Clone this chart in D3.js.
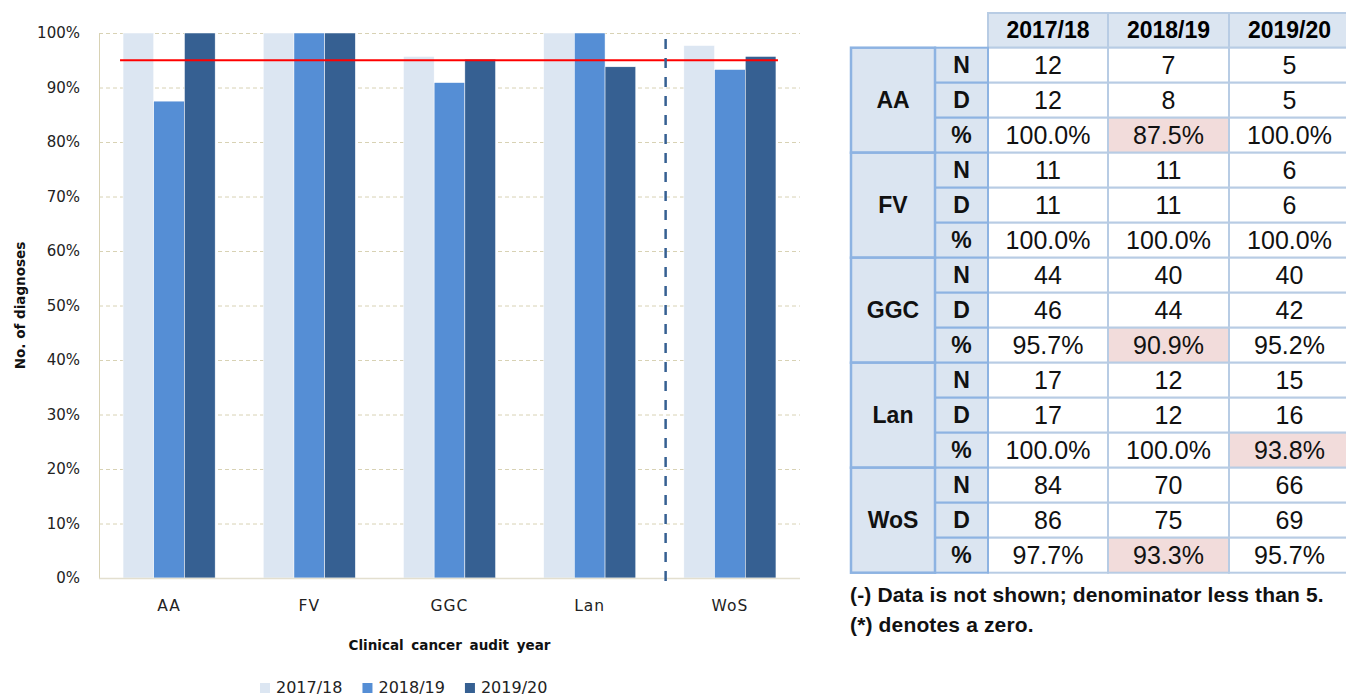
<!DOCTYPE html>
<html lang="en">
<head>
    <title>Diagnoses by board</title>
    <script src="https://d3js.org/d3.v7.min.js"></script>
    <style>
        body { margin: 0; background: #fff; }
        svg { display: block; }
    </style>
</head>
<body>
<script>

        // categories and audit years
        var categories = ["AA", "FV", "GGC", "Lan", "WoS"];
        var years = ["2017/18", "2018/19", "2019/20"];

        // percentages (bar heights and % rows)
        var pct2017 = [100.0, 100.0, 95.7, 100.0, 97.7];
        var pct2018 = [87.5, 100.0, 90.9, 100.0, 93.3];
        var pct2019 = [100.0, 100.0, 95.2, 93.8, 95.7];

        // numerators and denominators for the table
        var num2017 = [12, 11, 44, 17, 84];
        var den2017 = [12, 11, 46, 17, 86];
        var num2018 = [7, 11, 40, 12, 70];
        var den2018 = [8, 11, 44, 12, 75];
        var num2019 = [5, 6, 40, 15, 66];
        var den2019 = [5, 6, 42, 16, 69];

        var target = 95;
        var yTicks = [0, 10, 20, 30, 40, 50, 60, 70, 80, 90, 100];
        var rowKeys = ["N", "D", "%"];
        var footnotes = ["(-) Data is not shown; denominator less than 5.", "(*) denotes a zero."];

        var pct = [pct2017, pct2018, pct2019];
        var num = [num2017, num2018, num2019];
        var den = [den2017, den2018, den2019];

        const width = 1346, height = 696;
        const colors = ["#dce6f2", "#558ed5", "#366092"];

        const svg = d3.select("body")
                    .append("svg")
                    .attr("width", width)
                    .attr("height", height);

        // ---------- bar chart ----------
        const plot = { left: 99, right: 800, top: 33, bottom: 578 };
        const chartFont = "'DejaVu Sans', Verdana, sans-serif";

        var x0 = d3.scaleBand()
            .domain(categories)
            .range([plot.left, plot.right])
            .paddingInner(0.343)
            .paddingOuter(0.1715);

        var x1 = d3.scaleBand()
            .domain(years)
            .range([0, x0.bandwidth()]);

        var y = d3.scaleLinear()
            .domain([0, 100])
            .range([plot.bottom, plot.top]);

        // gridlines
        svg.append("g")
            .selectAll("line")
            .data(yTicks.filter(function(t) { return t > 0; }))
            .enter()
            .append("line")
            .attr("x1", plot.left)
            .attr("x2", plot.right)
            .attr("y1", function(d) { return y(d) + 0.5; })
            .attr("y2", function(d) { return y(d) + 0.5; })
            .attr("stroke", "#d8d2b4")
            .attr("stroke-width", 1)
            .attr("stroke-dasharray", "4,3");

        // y axis
        var yAxis = svg.append("g")
            .attr("transform", "translate(" + plot.left + ",0)")
            .call(d3.axisLeft(y).tickValues(yTicks).tickSize(0).tickPadding(19)
                .tickFormat(function(d) { return d + "%"; }));
        yAxis.select(".domain").attr("stroke", "#d8d2b4");
        yAxis.selectAll("text")
            .attr("font-family", chartFont)
            .attr("font-size", "15px")
            .attr("fill", "#222");

        // bars
        var groups = svg.append("g")
            .selectAll("g")
            .data(categories)
            .enter()
            .append("g")
            .attr("transform", function(d) { return "translate(" + x0(d) + ",0)"; });

        groups.selectAll("rect")
            .data(function(d, i) {
                return years.map(function(yr, j) { return { year: yr, value: pct[j][i], j: j }; });
            })
            .enter()
            .append("rect")
            .attr("x", function(d) { return x1(d.year); })
            .attr("y", function(d) { return y(d.value); })
            .attr("width", x1.bandwidth())
            .attr("height", function(d) { return y(0) - y(d.value); })
            .attr("fill", function(d) { return colors[d.j]; })
            .attr("stroke", "#fff")
            .attr("stroke-width", 0.5);

        // x axis baseline
        svg.append("line")
            .attr("x1", plot.left)
            .attr("x2", plot.right)
            .attr("y1", plot.bottom + 0.5)
            .attr("y2", plot.bottom + 0.5)
            .attr("stroke", "#e3dfcf")
            .attr("stroke-width", 1.5);

        // category labels
        svg.append("g")
            .selectAll("text")
            .data(categories)
            .enter()
            .append("text")
            .attr("x", function(d) { return x0(d) + x0.bandwidth() / 2; })
            .attr("y", 611)
            .attr("text-anchor", "middle")
            .attr("font-family", chartFont)
            .attr("font-size", "15.5px")
            .attr("letter-spacing", "1px")
            .attr("fill", "#222")
            .text(function(d) { return d; });

        // target line
        svg.append("line")
            .attr("x1", x0(categories[0]) - 3)
            .attr("x2", x0(categories[categories.length - 1]) + x0.bandwidth() + 2)
            .attr("y1", y(target))
            .attr("y2", y(target))
            .attr("stroke", "#ff0000")
            .attr("stroke-width", 2);

        // separator between boards and WoS
        var sepX = x0("WoS") - x0.step() * 0.13;
        svg.append("line")
            .attr("x1", sepX)
            .attr("x2", sepX)
            .attr("y1", 39)
            .attr("y2", 586)
            .attr("stroke", "#366092")
            .attr("stroke-width", 2.5)
            .attr("stroke-dasharray", "10,9");

        // axis titles
        svg.append("text")
            .attr("x", (plot.left + plot.right) / 2)
            .attr("y", 650)
            .attr("text-anchor", "middle")
            .attr("font-family", chartFont)
            .attr("font-weight", "bold")
            .attr("font-size", "13.5px")
            .attr("word-spacing", "3px")
            .attr("fill", "#111")
            .text("Clinical cancer audit year");

        svg.append("text")
            .attr("transform", "translate(25," + ((plot.top + plot.bottom) / 2) + ") rotate(-90)")
            .attr("text-anchor", "middle")
            .attr("font-family", chartFont)
            .attr("font-weight", "bold")
            .attr("font-size", "13.5px")
            .attr("fill", "#111")
            .text("No. of diagnoses");

        // legend
        var legend = svg.append("g").attr("transform", "translate(260,0)");
        var lx = 0;
        years.forEach(function(yr, j) {
            legend.append("rect")
                .attr("x", lx)
                .attr("y", 683)
                .attr("width", 10)
                .attr("height", 10)
                .attr("fill", colors[j]);
            var t = legend.append("text")
                .attr("x", lx + 16)
                .attr("y", 693)
                .attr("font-family", chartFont)
                .attr("font-size", "16px")
                .attr("fill", "#222")
                .text(yr);
            lx += 16 + t.node().getComputedTextLength() + 20;
        });

        // ---------- table ----------
        const tableFont = "'Liberation Sans', Arial, sans-serif";
        const colEdges = [851, 935, 988, 1108, 1229, 1350];
        const headTop = 13, tableTop = 47.7, tableBottom = 572.7;
        const lightFill = "#dbe5f1", strongLine = "#8db3e2", softLine = "#b8cce4", warnFill = "#f2dcdb";

        var rows = [];
        categories.forEach(function(c, i) {
            rowKeys.forEach(function(k, r) {
                rows.push({ cat: i, key: k, r: r });
            });
        });

        var rowY = d3.scaleBand()
            .domain(d3.range(rows.length))
            .range([tableTop, tableBottom]);
        var rh = rowY.bandwidth();

        var table = svg.append("g");

        // header cells
        table.selectAll(".head")
            .data(years)
            .enter()
            .append("rect")
            .attr("x", function(d, j) { return colEdges[j + 2]; })
            .attr("y", headTop)
            .attr("width", function(d, j) { return colEdges[j + 3] - colEdges[j + 2]; })
            .attr("height", tableTop - headTop)
            .attr("fill", lightFill)
            .attr("stroke", softLine)
            .attr("stroke-width", 2);

        table.selectAll(".headText")
            .data(years)
            .enter()
            .append("text")
            .attr("x", function(d, j) { return (colEdges[j + 2] + colEdges[j + 3]) / 2; })
            .attr("y", (headTop + tableTop) / 2 + 8)
            .attr("text-anchor", "middle")
            .attr("font-family", tableFont)
            .attr("font-weight", "bold")
            .attr("font-size", "23px")
            .text(function(d) { return d; });

        // data cells
        var cells = [];
        rows.forEach(function(row, ri) {
            years.forEach(function(yr, j) {
                var v, txt, warn = false;
                if (row.key === "N") { v = num[j][row.cat]; txt = String(v); }
                else if (row.key === "D") { v = den[j][row.cat]; txt = String(v); }
                else { v = pct[j][row.cat]; txt = v.toFixed(1) + "%"; warn = v < target; }
                cells.push({ ri: ri, j: j, txt: txt, warn: warn });
            });
        });

        table.selectAll(".cell")
            .data(cells)
            .enter()
            .append("rect")
            .attr("x", function(d) { return colEdges[d.j + 2]; })
            .attr("y", function(d) { return rowY(d.ri); })
            .attr("width", function(d) { return colEdges[d.j + 3] - colEdges[d.j + 2]; })
            .attr("height", rh)
            .attr("fill", function(d) { return d.warn ? warnFill : "#fff"; })
            .attr("stroke", softLine)
            .attr("stroke-width", 2);

        table.selectAll(".cellText")
            .data(cells)
            .enter()
            .append("text")
            .attr("x", function(d) { return (colEdges[d.j + 2] + colEdges[d.j + 3]) / 2; })
            .attr("y", function(d) { return rowY(d.ri) + rh / 2 + 9; })
            .attr("text-anchor", "middle")
            .attr("font-family", tableFont)
            .attr("font-size", "25px")
            .attr("fill", "#111")
            .text(function(d) { return d.txt; });

        // row key cells (N, D, %)
        table.selectAll(".key")
            .data(rows)
            .enter()
            .append("rect")
            .attr("x", colEdges[1])
            .attr("y", function(d, i) { return rowY(i); })
            .attr("width", colEdges[2] - colEdges[1])
            .attr("height", rh)
            .attr("fill", lightFill)
            .attr("stroke", strongLine)
            .attr("stroke-width", 2);

        table.selectAll(".keyText")
            .data(rows)
            .enter()
            .append("text")
            .attr("x", (colEdges[1] + colEdges[2]) / 2)
            .attr("y", function(d, i) { return rowY(i) + rh / 2 + 8; })
            .attr("text-anchor", "middle")
            .attr("font-family", tableFont)
            .attr("font-weight", "bold")
            .attr("font-size", "23px")
            .attr("fill", "#111")
            .text(function(d) { return d.key; });

        // region cells spanning three rows
        table.selectAll(".region")
            .data(categories)
            .enter()
            .append("rect")
            .attr("x", colEdges[0])
            .attr("y", function(d, i) { return rowY(i * 3); })
            .attr("width", colEdges[1] - colEdges[0])
            .attr("height", rh * 3)
            .attr("fill", lightFill)
            .attr("stroke", strongLine)
            .attr("stroke-width", 2.5);

        table.selectAll(".regionText")
            .data(categories)
            .enter()
            .append("text")
            .attr("x", (colEdges[0] + colEdges[1]) / 2)
            .attr("y", function(d, i) { return rowY(i * 3) + rh * 1.5 + 8; })
            .attr("text-anchor", "middle")
            .attr("font-family", tableFont)
            .attr("font-weight", "bold")
            .attr("font-size", "23px")
            .attr("fill", "#111")
            .text(function(d) { return d; });

        // footnotes
        table.selectAll(".note")
            .data(footnotes)
            .enter()
            .append("text")
            .attr("x", 850)
            .attr("y", function(d, i) { return 602 + i * 30; })
            .attr("font-family", tableFont)
            .attr("font-weight", "bold")
            .attr("font-size", "21px")
            .attr("letter-spacing", "0.15px")
            .attr("fill", "#111")
            .text(function(d) { return d; });

</script>
</body>
</html>
